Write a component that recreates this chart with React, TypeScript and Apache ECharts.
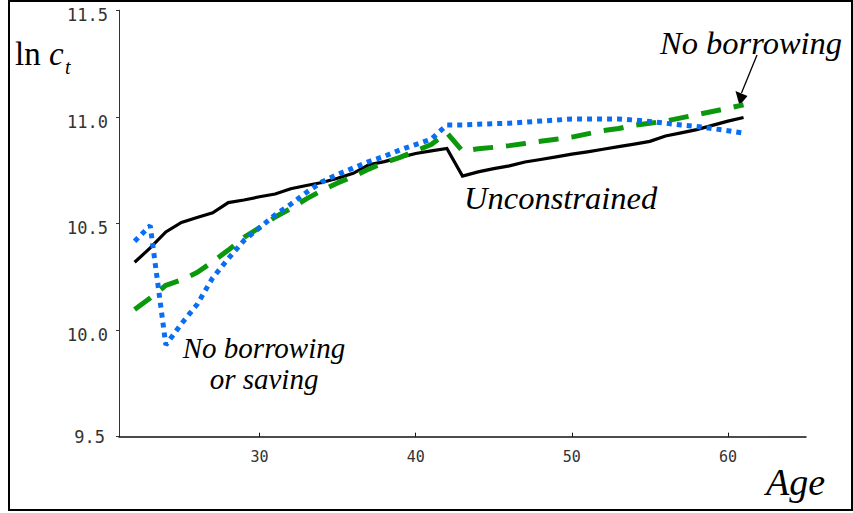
import React, { useEffect, useRef } from "react";
import * as echarts from "echarts";

// Age of the household head
const ages = [
  22, 23, 24, 25, 26, 27, 28, 29, 30, 31, 32, 33, 34, 35, 36, 37, 38, 39, 40, 41,
  42, 43, 44, 45, 46, 47, 48, 49, 50, 51, 52, 53, 54, 55, 56, 57, 58, 59, 60, 61,
];

// ln consumption, unconstrained household
const unconstrained = [
  10.318, 10.385, 10.46, 10.505, 10.528, 10.55, 10.598, 10.61, 10.625, 10.638,
  10.663, 10.678, 10.692, 10.712, 10.735, 10.775, 10.79, 10.81, 10.828, 10.84,
  10.852, 10.722, 10.742, 10.757, 10.77, 10.788, 10.8, 10.812, 10.825, 10.836,
  10.848, 10.86, 10.872, 10.885, 10.91, 10.925, 10.94, 10.96, 10.98, 10.997,
];

// ln consumption, borrowing not allowed
const noBorrowing = [
  10.096, 10.15, 10.21, 10.235, 10.27, 10.32, 10.375, 10.435, 10.48, 10.53,
  10.57, 10.615, 10.655, 10.69, 10.72, 10.755, 10.785, 10.81, 10.84, 10.87,
  10.925, 10.84, 10.85, 10.857, 10.865, 10.875, 10.885, 10.895, 10.905, 10.92,
  10.935, 10.945, 10.96, 10.97, 10.98, 10.995, 11.01, 11.025, 11.04, 11.056,
];

// ln consumption, neither borrowing nor saving allowed
const noBorrowingOrSaving = [
  10.416, 10.49, 9.93, 10.03, 10.12, 10.245, 10.335, 10.42, 10.48, 10.54,
  10.59, 10.645, 10.695, 10.73, 10.76, 10.79, 10.815, 10.845, 10.87, 10.895,
  10.962, 10.962, 10.965, 10.968, 10.97, 10.975, 10.98, 10.985, 10.99, 10.99,
  10.99, 10.99, 10.985, 10.978, 10.97, 10.962, 10.955, 10.945, 10.935, 10.924,
];

const ageTicks = [30, 40, 50, 60];

const pairs = (vals: number[]) => ages.map((a, i) => [a, vals[i]]);

const serif = '"Liberation Serif", "Times New Roman", serif';
const mono = '"DejaVu Sans Mono", monospace';

export default function App() {
  const ref = useRef<HTMLDivElement>(null);

  useEffect(() => {
    if (!ref.current) return;
    const chart = echarts.init(ref.current, undefined, { renderer: "svg" });
    chart.setOption({
      animation: false,
      backgroundColor: "#fff",
      grid: { left: 119, right: 47, top: 10.2, bottom: 76.3 },
      xAxis: {
        type: "value",
        min: 21,
        max: 65,
        axisLine: { show: true, lineStyle: { color: "#111", width: 1.5 } },
        axisTick: {
          show: true,
          inside: true,
          length: 4,
          customValues: ageTicks,
          lineStyle: { color: "#111" },
        },
        axisLabel: {
          customValues: ageTicks,
          margin: 13,
          fontFamily: mono,
          fontSize: 15,
          color: "#333",
        },
        splitLine: { show: false },
      },
      yAxis: {
        type: "value",
        min: 9.5,
        max: 11.5,
        interval: 0.5,
        axisLine: { show: true, lineStyle: { color: "#333", width: 1 } },
        axisTick: { show: true, length: 3, lineStyle: { color: "#333" } },
        axisLabel: {
          margin: 11,
          formatter: (v: number) =>
            v === 9.5 ? "{b|9.5}" : `{a|${v.toFixed(1)}}`,
          rich: {
            a: { padding: [10, 0, 0, 0], fontFamily: mono, fontSize: 17, color: "#333" },
            b: { padding: [0, 3, 0, 0], fontFamily: mono, fontSize: 17, color: "#333" },
          },
        },
        splitLine: { show: false },
      },
      series: [
        {
          name: "Unconstrained",
          type: "line",
          data: pairs(unconstrained),
          showSymbol: false,
          symbol: "none",
          lineStyle: { color: "#000", width: 3.2, join: "miter" },
          z: 2,
        },
        {
          name: "No borrowing",
          type: "line",
          data: pairs(noBorrowing),
          showSymbol: false,
          symbol: "none",
          lineStyle: { color: "#0c980c", width: 5, type: [20, 13], cap: "butt" },
          z: 3,
        },
        {
          name: "No borrowing or saving",
          type: "line",
          data: pairs(noBorrowingOrSaving),
          showSymbol: false,
          symbol: "none",
          lineStyle: { color: "#0a6ef5", width: 5, type: [5, 5], cap: "butt" },
          z: 4,
        },
      ],
      graphic: [
        {
          type: "rect",
          shape: { x: 9, y: 1, width: 843, height: 509 },
          style: { fill: "none", stroke: "#000", lineWidth: 2 },
          silent: true,
        },
        {
          type: "text",
          x: 15,
          y: 54,
          style: { text: "ln", fontFamily: serif, fontSize: 33, fill: "#000", verticalAlign: "middle" },
        },
        {
          type: "text",
          x: 49,
          y: 54,
          style: { text: "c", fontFamily: serif, fontStyle: "italic", fontSize: 33, fill: "#000", verticalAlign: "middle" },
        },
        {
          type: "text",
          x: 65,
          y: 67,
          style: { text: "t", fontFamily: serif, fontStyle: "italic", fontSize: 20, fill: "#000", verticalAlign: "middle" },
        },
        {
          type: "text",
          x: 766,
          y: 482,
          style: { text: "Age", fontFamily: serif, fontStyle: "italic", fontSize: 38, fill: "#000", verticalAlign: "middle" },
        },
        {
          type: "text",
          x: 660,
          y: 42.5,
          style: { text: "No borrowing", fontFamily: serif, fontStyle: "italic", fontSize: 32.5, fill: "#000", verticalAlign: "middle" },
        },
        {
          type: "text",
          x: 464,
          y: 197.5,
          style: { text: "Unconstrained", fontFamily: serif, fontStyle: "italic", fontSize: 32.5, fill: "#000", verticalAlign: "middle" },
        },
        {
          type: "text",
          x: 264,
          y: 347.5,
          style: { text: "No borrowing", fontFamily: serif, fontStyle: "italic", fontSize: 29, fill: "#000", align: "center", verticalAlign: "middle" },
        },
        {
          type: "text",
          x: 264,
          y: 378.5,
          style: { text: "or saving", fontFamily: serif, fontStyle: "italic", fontSize: 29, fill: "#000", align: "center", verticalAlign: "middle" },
        },
        {
          type: "line",
          shape: { x1: 757, y1: 55, x2: 741.5, y2: 93 },
          style: { stroke: "#000", lineWidth: 1.3 },
        },
        {
          type: "polygon",
          shape: { points: [[735.5, 91], [747.5, 96], [739.5, 105.5]] },
          style: { fill: "#000" },
        },
      ],
    });
    return () => chart.dispose();
  }, []);

  return (
    <div
      ref={ref}
      style={{ position: "absolute", left: 0, top: 0, width: 853, height: 513 }}
    />
  );
}
